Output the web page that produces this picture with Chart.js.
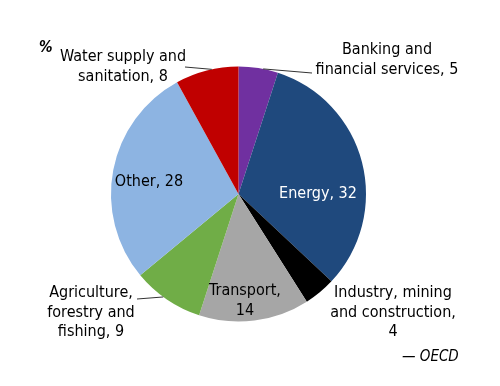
<!DOCTYPE html>
<html>
<head>
<meta charset="utf-8">
<script src="https://cdn.jsdelivr.net/npm/chart.js@4"></script>
<style>
  html, body { margin: 0; padding: 0; background: #fff; }
  #wrap { width: 500px; height: 386px; position: relative; }
</style>
</head>
<body>
<div id="wrap"><canvas id="grafico"></canvas></div>
<script>
// dati, in ordine orario partendo dall'alto
var categorie = ['Banking and financial services', 'Energy', 'Industry, mining and construction', 'Transport', 'Agriculture, forestry and fishing', 'Other', 'Water supply and sanitation'];
var valori = [5, 32, 4, 14, 9, 28, 8];
var colori = ['#7030A0', '#1F497D', '#000000', '#A6A6A6', '#70AD47', '#8DB4E2', '#C00000'];

// etichette: righe di testo, posizione, colore, eventuale linea guida
var etichette = [
    { righe: ['Banking and', 'financial services, 5'], x: 387, y: 50, colore: '#000', linea: [312, 73, 0.62] },
    { righe: ['Energy, 32'], x: 318, y: 194, colore: '#fff' },
    { righe: ['Industry, mining', 'and construction,', '4'], x: 393, y: 293, colore: '#000' },
    { righe: ['Transport,', '14'], x: 245, y: 291, colore: '#000' },
    { righe: ['Agriculture,', 'forestry and', 'fishing, 9'], x: 91, y: 293, colore: '#000', linea: [137, 299, 0.56] },
    { righe: ['Other, 28'], x: 149, y: 182, colore: '#000' },
    { righe: ['Water supply and', 'sanitation, 8'], x: 123, y: 57, colore: '#000', linea: [185, 67, 0.58] }
];

var FAMIGLIA = '"DejaVu Sans Condensed", "DejaVu Sans", sans-serif';

var pluginEtichette = {
    id: 'etichette',
    afterDatasetsDraw: function (chart) {
        var ctx = chart.ctx;
        var archi = chart.getDatasetMeta(0).data;
        ctx.save();
        ctx.font = '16px ' + FAMIGLIA;
        ctx.textAlign = 'center';
        ctx.textBaseline = 'middle';
        for (var i = 0; i < etichette.length; i++) {
            var e = etichette[i];
            if (e.linea) {
                // punto sul bordo dell'arco, frazione lungo l'angolo
                var a = archi[i];
                var ang = a.startAngle + (a.endAngle - a.startAngle) * e.linea[2];
                var px = a.x + Math.cos(ang) * a.outerRadius;
                var py = a.y + Math.sin(ang) * a.outerRadius;
                ctx.strokeStyle = '#333';
                ctx.lineWidth = 1;
                ctx.beginPath();
                ctx.moveTo(e.linea[0], e.linea[1]);
                ctx.lineTo(px, py);
                ctx.stroke();
            }
            ctx.fillStyle = e.colore;
            for (var r = 0; r < e.righe.length; r++) {
                ctx.fillText(e.righe[r], e.x, e.y + r * 19.5);
            }
        }
        // simbolo % e fonte
        ctx.fillStyle = '#000';
        ctx.font = 'italic bold 15px ' + FAMIGLIA;
        ctx.textAlign = 'left';
        ctx.fillText('%', 39, 48);
        ctx.font = 'italic 15px ' + FAMIGLIA;
        ctx.fillText('\u2014 OECD', 402, 357);
        ctx.restore();
    }
};

var ctx = document.getElementById('grafico');
var chart = new Chart(ctx, {
    type: 'pie',
    data: {
        labels: categorie,
        datasets: [{
            data: valori,
            backgroundColor: colori,
            borderWidth: 0
        }]
    },
    options: {
        responsive: true,
        maintainAspectRatio: false,
        animation: false,
        layout: { padding: { left: 111, right: 134, top: 66, bottom: 64 } },
        plugins: {
            legend: { display: false },
            tooltip: { enabled: false }
        }
    },
    plugins: [pluginEtichette]
});
</script>
</body>
</html>
